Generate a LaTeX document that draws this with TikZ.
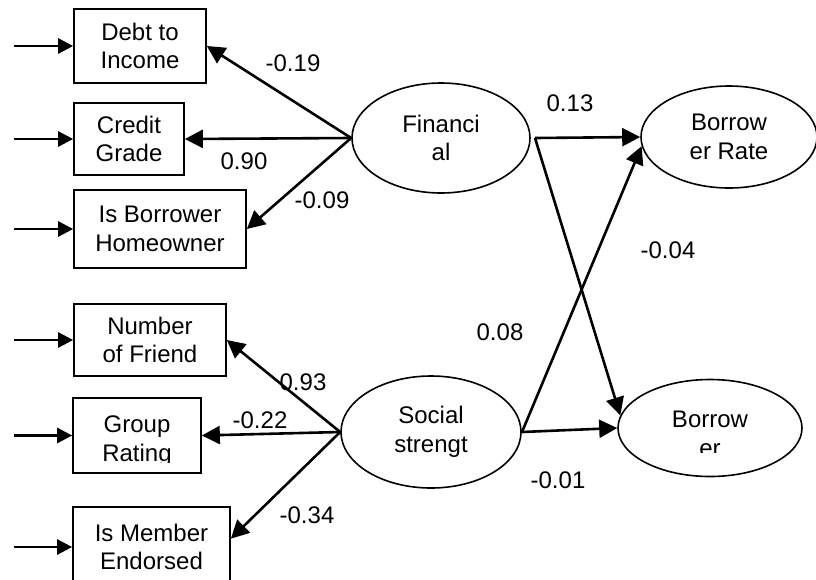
\documentclass[tikz,border=0pt]{standalone}
\usepackage{fontspec}
\setmainfont{Liberation Sans}
\usetikzlibrary{arrows.meta,shapes.geometric}
\begin{document}
\begin{tikzpicture}[x=1pt,y=-1pt,
  txt/.style={font=\fontsize{24}{28.5}\selectfont},
  box/.style={txt,draw,line width=1.7pt,inner sep=0pt,align=center},
  lat/.style={txt,draw,ellipse,line width=1.6pt,inner sep=0pt,align=center},
  lab/.style={txt,inner sep=0pt},
  arr/.style={line width=2.6pt,-{Triangle[length=18pt,width=18pt]}},
  inarr/.style={line width=2.6pt,-{Triangle[length=15pt,width=15pt]}},
  ]
\useasboundingbox (0,0) rectangle (816,579);

% observed indicators
\node[box,minimum width=132pt,minimum height=74pt] (debt) at (140,46) {Debt to\\Income};
\node[box,minimum width=110pt,minimum height=72pt] (cred) at (129,139) {Credit\\Grade};
\node[box,minimum width=172pt,minimum height=78pt] (home) at (160,229) {Is Borrower\\Homeowner};
\node[box,minimum width=152pt,minimum height=72pt] (numf) at (150,340) {Number\\of Friend};
\node[box,minimum width=128pt,minimum height=75pt] (grp) at (137,435.5) {};
\begin{scope}
  \clip (70,395) rectangle (205,462);
  \node[lab,align=center] (grpt) at (137,441) {Group\\Rating};
\end{scope}
\node[box,minimum width=157pt,minimum height=80pt] (mem) at (151.5,547) {Is Member\\Endorsed};

% latent variables
\node[lat,minimum width=178pt,minimum height=110pt] (fin) at (441,138) {Financi\\al};
\node[lat,minimum width=180pt,minimum height=112pt] (soc) at (431,432) {Social\\strengt};
\node[lat,minimum width=176pt,minimum height=102pt] (br) at (729,137) {Borrow\\er Rate};
\node[lat,minimum width=184pt,minimum height=97pt] (bb) at (710,428) {};
\begin{scope}
  \clip (620,395) rectangle (800,452);
  \node[lab,align=center] (bbt) at (710,434) {Borrow\\er};
\end{scope}

% error inputs
\coordinate (e1) at (14,46);
\coordinate (e2) at (14,139);
\coordinate (e3) at (14,229);
\coordinate (e4) at (14,340);
\coordinate (e5) at (14,435.5);
\coordinate (e6) at (14,547);
\draw[inarr] (e1) -- (debt.west);
\draw[inarr] (e2) -- (cred.west);
\draw[inarr] (e3) -- (home.west);
\draw[inarr] (e4) -- (numf.west);
\draw[inarr] (e5) -- (grp.west);
\draw[inarr] (e6) -- (mem.west);

% loadings
\draw[arr] (fin.west) -- (debt.east);
\draw[arr] (fin.west) -- (cred.east);
\draw[arr] (fin.west) -- (home.east);
\draw[arr] (soc.west) -- (numf.east);
\draw[arr] (soc.west) -- (grp.east);
\draw[arr] (soc.west) -- (mem.6);

% structural paths
\coordinate (fo) at (535,138);
\coordinate (so) at (522,432);
\draw[arr] (fo) -- (br.west);
\draw[arr] (fo) -- (bb.172);
\draw[arr] (so) -- (br.186);
\draw[arr] (so) -- (bb.west);

% coefficients
\node[lab] (l1) at (293,63) {-0.19};
\node[lab] (l2) at (244,161) {0.90};
\node[lab] (l3) at (322,200) {-0.09};
\node[lab] (l4) at (570,103) {0.13};
\node[lab] (l5) at (668,250) {-0.04};
\node[lab] (l6) at (500,332) {0.08};
\node[lab] (l7) at (303,382) {0.93};
\node[lab] (l8) at (260,420) {-0.22};
\node[lab] (l9) at (307,515) {-0.34};
\node[lab] (l10) at (558,480) {-0.01};
\end{tikzpicture}
\end{document}
